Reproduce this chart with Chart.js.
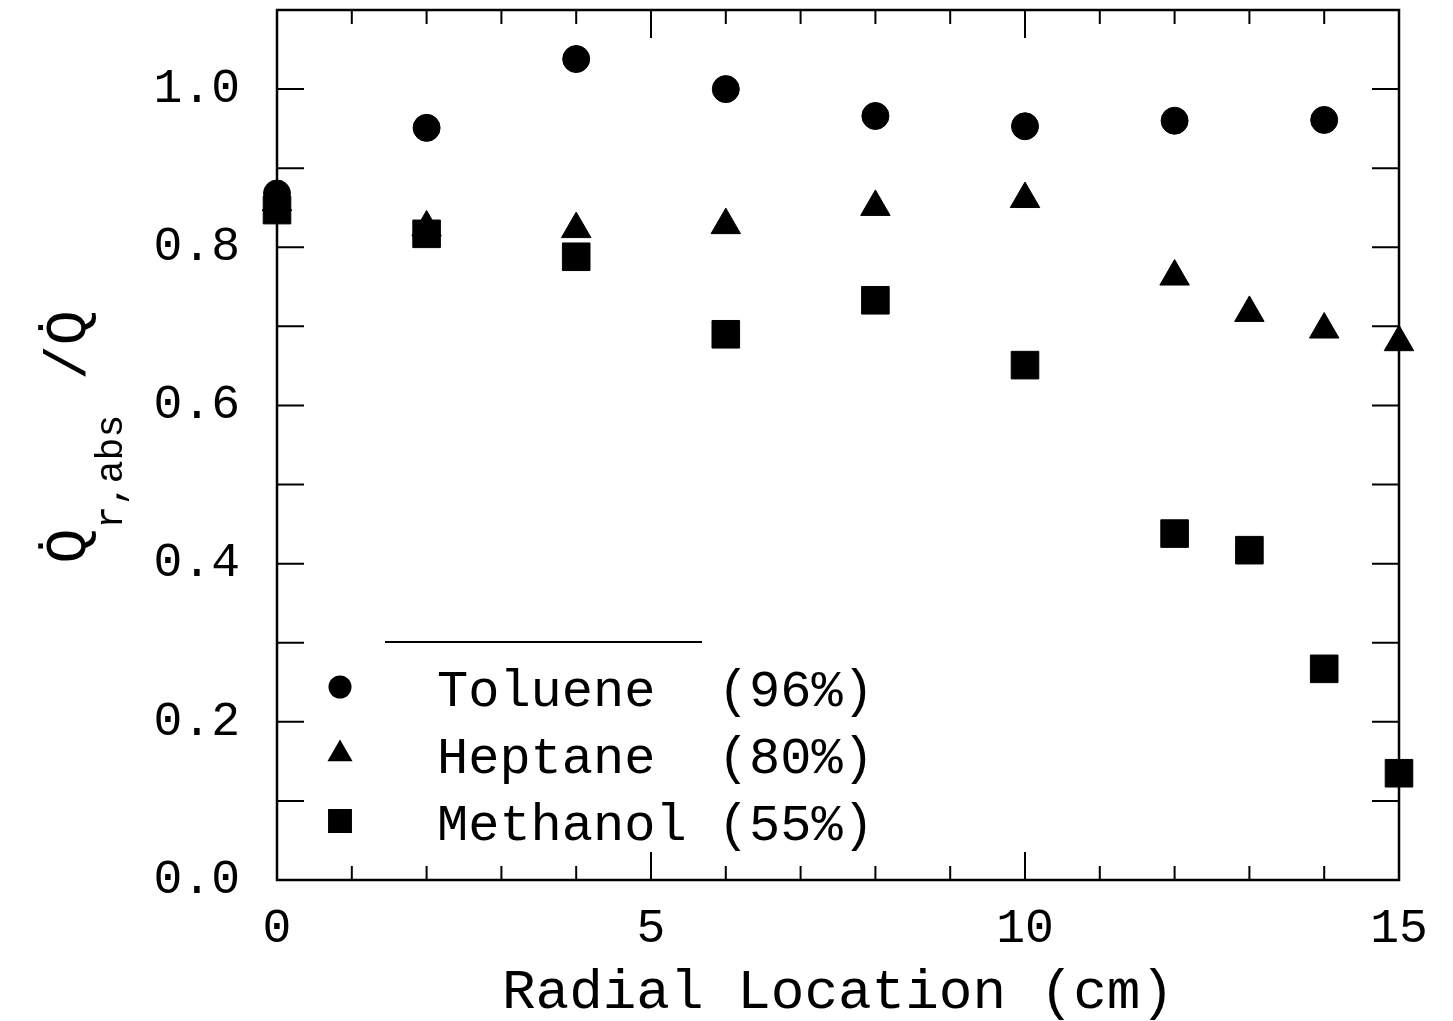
<!DOCTYPE html>
<html>
<head>
<meta charset="utf-8">
<script src="https://cdn.jsdelivr.net/npm/chart.js@4.4.0/dist/chart.umd.min.js"></script>
<style>
  html, body { margin: 0; padding: 0; background: #fff; }
  #wrap { width: 1453px; height: 1021px; }
</style>
</head>
<body>
<div id="wrap"><canvas id="chart"></canvas></div>
<script>
const FONT = "'Liberation Mono', 'DejaVu Sans Mono', monospace";

// radial location (cm) and Q_r,abs / Q
const tolueneX = [0, 2, 4, 6, 8, 10, 12, 14];
const tolueneY = [0.868, 0.951, 1.038, 1.0, 0.966, 0.953, 0.960, 0.961];
const heptaneX = [0, 2, 4, 6, 8, 10, 12, 13, 14, 15];
const heptaneY = [0.857, 0.825, 0.823, 0.828, 0.851, 0.861, 0.763, 0.717, 0.696, 0.680];
const methanolX = [0, 2, 4, 6, 8, 10, 12, 13, 14, 15];
const methanolY = [0.847, 0.817, 0.788, 0.690, 0.733, 0.651, 0.438, 0.417, 0.267, 0.135];

const seriesLabels = ['Toluene  (96%)', 'Heptane  (80%)', 'Methanol (55%)'];
const xLabelValues = [0, 5, 10, 15];
const yLabelValues = [0, 0.2, 0.4, 0.6, 0.8, 1.0];

const pts = (xs, ys) => xs.map((x, i) => ({ x: x, y: ys[i] }));

// box frame with inward ticks on all four sides
const frame = {
  id: 'frame',
  beforeDatasetsDraw(chart) {
    const { ctx, chartArea: a, scales: { x, y } } = chart;
    ctx.save();
    ctx.strokeStyle = '#000';
    ctx.lineWidth = 2.5;
    ctx.strokeRect(a.left, a.top, a.right - a.left, a.bottom - a.top);
    ctx.lineWidth = 2;
    ctx.beginPath();
    for (let v = x.min; v <= x.max; v++) {
      const px = x.getPixelForValue(v);
      const len = v % 5 === 0 ? 28 : 14;
      ctx.moveTo(px, a.bottom); ctx.lineTo(px, a.bottom - len);
      ctx.moveTo(px, a.top); ctx.lineTo(px, a.top + len);
    }
    for (let k = 0; k <= Math.round(y.max * 10); k++) {
      const py = y.getPixelForValue(k / 10);
      ctx.moveTo(a.left, py); ctx.lineTo(a.left + 27, py);
      ctx.moveTo(a.right, py); ctx.lineTo(a.right - 27, py);
    }
    ctx.stroke();
    ctx.restore();
  }
};

// legend in lower left + y-axis title with subscript
const extras = {
  id: 'extras',
  afterDraw(chart) {
    const { ctx, chartArea: a } = chart;
    ctx.save();
    ctx.strokeStyle = '#000';
    ctx.fillStyle = '#000';
    ctx.lineWidth = 2;
    ctx.beginPath();
    ctx.moveTo(a.left + 108, a.bottom - 238);
    ctx.lineTo(a.left + 425, a.bottom - 238);
    ctx.stroke();

    const legendRadius = [10.5, 12.5, 15.5];
    ctx.font = '52px ' + FONT;
    ctx.textBaseline = 'alphabetic';
    chart.data.datasets.forEach((ds, i) => {
      const cy = a.bottom - 193 + i * 67;
      Chart.helpers.drawPoint(ctx, { pointStyle: ds.pointStyle, radius: legendRadius[i], rotation: 0, borderWidth: 1 }, a.left + 63, cy);
      ctx.fillText(ds.label, a.left + 160, cy + 19);
    });

    // y title: Q̇ r,abs / Q̇
    const big = '58px ' + FONT, small = '38px ' + FONT;
    const t1 = 'Q\u0307', t2 = 'r,abs', t3 = ' /Q\u0307';
    ctx.font = big; const w1 = ctx.measureText(t1).width; const w3 = ctx.measureText(t3).width;
    ctx.font = small; const w2 = ctx.measureText(t2).width;
    const total = w1 + w2 + w3;
    const mid = (a.top + a.bottom) / 2 - 8;
    ctx.translate(85, mid + total / 2);
    ctx.rotate(-Math.PI / 2);
    ctx.font = big; ctx.fillText(t1, 0, 0);
    ctx.font = small; ctx.fillText(t2, w1, 37);
    ctx.font = big; ctx.fillText(t3, w1 + w2, 0);
    ctx.restore();
  }
};

new Chart(document.getElementById('chart'), {
  type: 'scatter',
  data: {
    datasets: [
      { label: seriesLabels[0], data: pts(tolueneX, tolueneY), pointStyle: 'circle', pointRadius: 13.5, pointHoverRadius: 13.5,
        backgroundColor: '#000', borderColor: '#000', borderWidth: 1, clip: false },
      { label: seriesLabels[1], data: pts(heptaneX, heptaneY), pointStyle: 'triangle', pointRadius: 17, pointHoverRadius: 17,
        backgroundColor: '#000', borderColor: '#000', borderWidth: 1, clip: false },
      { label: seriesLabels[2], data: pts(methanolX, methanolY), pointStyle: 'rect', pointRadius: 19.5, pointHoverRadius: 19.5,
        backgroundColor: '#000', borderColor: '#000', borderWidth: 1, clip: false }
    ]
  },
  options: {
    responsive: true,
    maintainAspectRatio: false,
    animation: false,
    layout: { autoPadding: false, padding: { left: 0, right: 54, top: 10, bottom: 0 } },
    plugins: { legend: { display: false }, tooltip: { enabled: false } },
    scales: {
      x: {
        type: 'linear', min: 0, max: 15,
        grid: { display: false }, border: { display: false },
        ticks: {
          stepSize: 1, autoSkip: false, maxRotation: 0, padding: 12, color: '#000',
          font: { family: FONT, size: 48 },
          callback: v => xLabelValues.includes(v) ? String(v) : ''
        },
        title: { display: true, text: 'Radial Location (cm)', color: '#000', padding: 0,
          font: { family: FONT, size: 56, lineHeight: 1 } },
        afterFit(s) { s.height = 141; s.paddingLeft = 0; s.paddingRight = 0; }
      },
      y: {
        min: 0, max: 1.1,
        grid: { display: false }, border: { display: false },
        ticks: {
          stepSize: 0.1, autoSkip: false, padding: 29, color: '#000',
          font: { family: FONT, size: 48 },
          callback: v => {
            const k = Math.round(v * 10) / 10;
            return yLabelValues.includes(k) ? k.toFixed(1) : '';
          }
        },
        afterFit(s) { s.width = 277; s.paddingTop = 0; s.paddingBottom = 0; }
      }
    }
  },
  plugins: [frame, extras]
});
</script>
</body>
</html>
